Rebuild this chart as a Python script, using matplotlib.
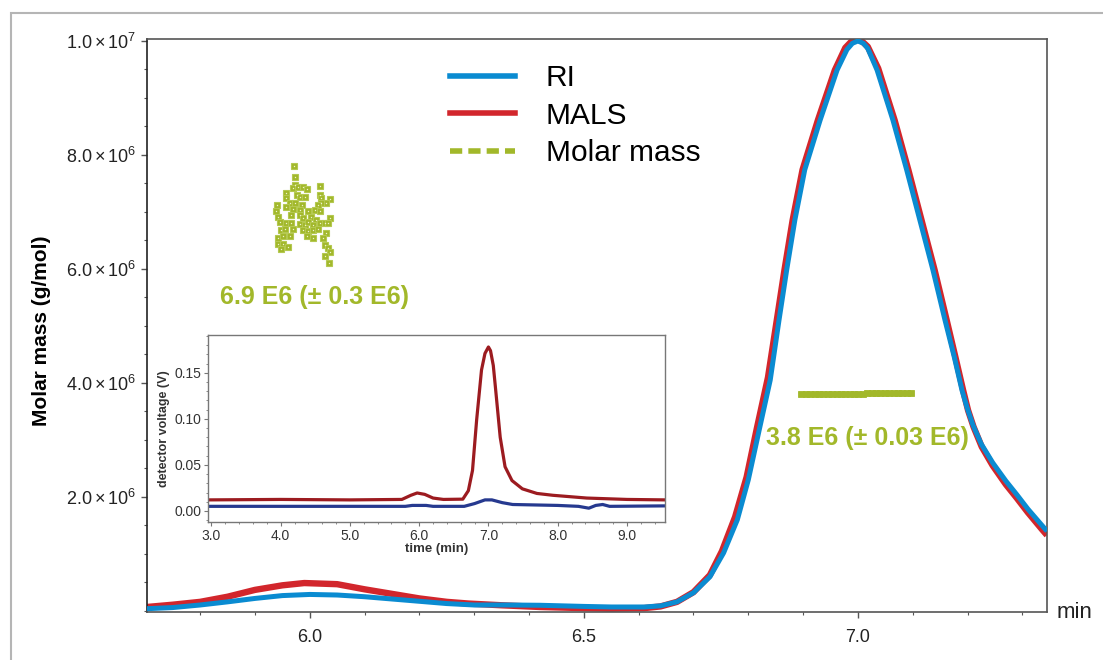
import numpy as np
import matplotlib
matplotlib.use("Agg")
import matplotlib.pyplot as plt
from matplotlib.lines import Line2D
from matplotlib.patches import Rectangle
from matplotlib.ticker import MultipleLocator

plt.rcParams['font.family'] = ['Liberation Sans', 'DejaVu Sans']
plt.rcParams['mathtext.fontset'] = 'custom'
plt.rcParams['mathtext.rm'] = 'Liberation Sans'
plt.rcParams['mathtext.it'] = 'Liberation Sans:italic'

# main chromatogram (time in min, signal scaled to molar mass axis, in 1e6 g/mol)
ri_t = [5.703, 5.75, 5.80, 5.85, 5.90, 5.95, 6.00, 6.05, 6.10, 6.15, 6.20, 6.25,
        6.30, 6.36, 6.42, 6.46, 6.50, 6.55, 6.61, 6.64, 6.67, 6.70, 6.73, 6.755,
        6.78, 6.80, 6.82, 6.84, 6.856, 6.870, 6.885, 6.903, 6.931, 6.962, 6.98, 6.99,
        7.00, 7.01, 7.018, 7.035, 7.064, 7.089, 7.113, 7.137, 7.159, 7.176, 7.190,
        7.200, 7.210, 7.225, 7.246, 7.27, 7.290, 7.31, 7.336, 7.345]
ri_v = [0.04, 0.06, 0.105, 0.16, 0.22, 0.27, 0.29, 0.28, 0.25, 0.21, 0.17, 0.13,
        0.105, 0.105, 0.10, 0.09, 0.08, 0.07, 0.07, 0.09, 0.16, 0.32, 0.60, 1.02,
        1.60, 2.30, 3.18, 4.05, 5.10, 5.98, 6.86, 7.74, 8.61, 9.49, 9.85, 9.96,
        10.0, 9.96, 9.87, 9.49, 8.61, 7.74, 6.86, 5.98, 5.10, 4.45, 3.87,
        3.54, 3.26, 2.93, 2.60, 2.28, 2.04, 1.79, 1.50, 1.40]

mals_t = [5.703, 5.75, 5.80, 5.85, 5.90, 5.95, 5.99, 6.05, 6.10, 6.15, 6.20, 6.25,
          6.29, 6.35, 6.42, 6.50, 6.55, 6.61, 6.64, 6.67, 6.70, 6.73, 6.752, 6.776,
          6.797, 6.816, 6.836, 6.852, 6.866, 6.881, 6.899, 6.927, 6.958, 6.977, 6.988,
          6.998, 7.008, 7.018, 7.037, 7.067, 7.092, 7.116, 7.140, 7.162, 7.178, 7.192,
          7.201, 7.211, 7.226, 7.246, 7.27, 7.290, 7.31, 7.336, 7.345]
mals_v = [0.07, 0.11, 0.16, 0.25, 0.37, 0.45, 0.49, 0.47, 0.38, 0.30, 0.22, 0.16,
          0.13, 0.10, 0.07, 0.05, 0.04, 0.05, 0.08, 0.16, 0.33, 0.63, 1.05, 1.65,
          2.35, 3.22, 4.10, 5.10, 5.98, 6.86, 7.74, 8.61, 9.49, 9.88, 9.99,
          10.03, 9.99, 9.90, 9.52, 8.61, 7.74, 6.86, 5.98, 5.10, 4.45, 3.87,
          3.52, 3.23, 2.88, 2.55, 2.22, 1.98, 1.73, 1.43, 1.33]

# molar mass points, first peak (1e6 g/mol)
mm1_t = [5.971, 5.973, 5.973, 5.970, 5.979, 5.988, 5.994, 5.956, 5.976, 5.982,
         5.991, 5.957, 5.963, 5.973, 5.985, 6.018, 6.018, 6.021, 6.036, 6.030,
         6.021, 6.015, 5.940, 5.957, 5.970, 5.982, 5.997, 6.009, 6.018, 5.939,
         5.942, 5.966, 5.982, 5.988, 6.003, 6.012, 6.036, 5.945, 5.957, 5.966,
         5.970, 5.982, 5.991, 5.997, 6.006, 6.018, 6.027, 6.033, 5.948, 5.954,
         5.988, 5.997, 6.006, 6.015, 6.030, 5.942, 5.951, 5.963, 5.994, 6.006,
         6.024, 5.942, 5.951, 5.960, 5.948, 6.027, 6.033, 6.036, 6.027, 6.035]
mm1_v = [7.81, 7.62, 7.47, 7.42, 7.44, 7.44, 7.40, 7.33, 7.30, 7.27,
         7.26, 7.24, 7.16, 7.15, 7.12, 7.46, 7.30, 7.24, 7.22, 7.15,
         7.16, 7.12, 7.12, 7.09, 7.06, 7.04, 7.01, 7.04, 7.01, 7.02,
         6.92, 6.95, 6.95, 6.89, 6.92, 6.86, 6.89, 6.83, 6.80, 6.80,
         6.71, 6.79, 6.77, 6.83, 6.77, 6.80, 6.80, 6.80, 6.68, 6.71,
         6.68, 6.66, 6.68, 6.71, 6.63, 6.54, 6.57, 6.58, 6.58, 6.54,
         6.54, 6.44, 6.44, 6.39, 6.35, 6.42, 6.36, 6.30, 6.22, 6.10]

# molar mass points, main peak
mm2_t = [6.897, 6.905, 6.913, 6.921, 6.929, 6.937, 6.945, 6.953, 6.961, 6.969,
         6.977, 6.985, 6.993, 7.001, 7.009, 7.017, 7.025, 7.033, 7.041, 7.049,
         7.057, 7.065, 7.073, 7.081, 7.089, 7.097]
mm2_v = [3.80, 3.80, 3.80, 3.80, 3.81, 3.80, 3.80, 3.81, 3.81, 3.81,
         3.81, 3.81, 3.81, 3.81, 3.81, 3.82, 3.82, 3.82, 3.82, 3.82,
         3.82, 3.82, 3.83, 3.83, 3.83, 3.83]

# inset: raw detector voltages
ins_mals_t = [2.95, 4.0, 5.0, 5.75, 5.88, 5.97, 6.08, 6.2, 6.35, 6.63, 6.71, 6.77,
              6.83, 6.90, 6.95, 7.0, 7.03, 7.07, 7.10, 7.17, 7.24, 7.34, 7.49, 7.7,
              7.93, 8.42, 9.0, 9.55]
ins_mals_v = [0.012, 0.0125, 0.012, 0.0125, 0.017, 0.0195, 0.018, 0.014, 0.0125,
              0.0128, 0.022, 0.044, 0.099, 0.153, 0.171, 0.178, 0.174, 0.158, 0.135,
              0.080, 0.048, 0.033, 0.024, 0.019, 0.017, 0.014, 0.0125, 0.012]
ins_ri_t = [2.95, 5.8, 5.9, 6.1, 6.2, 6.65, 6.8, 6.95, 7.05, 7.2, 7.35, 8.0, 8.3,
            8.45, 8.55, 8.65, 8.75, 9.55]
ins_ri_v = [0.005, 0.005, 0.006, 0.006, 0.005, 0.005, 0.008, 0.012, 0.012, 0.009,
            0.007, 0.006, 0.005, 0.003, 0.006, 0.007, 0.005, 0.0055]

ytick_vals = [2.0, 4.0, 6.0, 8.0, 10.0]
ytick_labels = [r'$2.0\times10^{6}$', r'$4.0\times10^{6}$', r'$6.0\times10^{6}$',
                r'$8.0\times10^{6}$', r'$1.0\times10^{7}$']

BLUE = '#0a8bd1'
RED = '#d2262c'
GREEN = '#a2b82a'
SPINE = '#555555'

fig = plt.figure(figsize=(11.03, 6.60), dpi=100)
fig.patches.append(Rectangle((0.01, -0.1), 1.1, 0.9803 + 0.1, transform=fig.transFigure,
                             fill=False, edgecolor='#b5b5b5', lw=1.5, zorder=-1))

ax = fig.add_axes([147 / 1103, 1 - 612 / 660, 900 / 1103, 573 / 660])
ax.plot(mals_t, mals_v, color=RED, lw=4.6, solid_capstyle='butt', zorder=2)
ax.plot(ri_t, ri_v, color=BLUE, lw=3.6, solid_capstyle='butt', zorder=3)
# scattered molar mass points of the small peak, light centre dot
ax.plot(mm1_t, mm1_v, ls='none', marker='s', ms=4.8, mfc=GREEN, mec='#b4c850', mew=0.8, zorder=4)
ax.plot(mm1_t, mm1_v, ls='none', marker='s', ms=0.9, mfc='#eef3d0', mec='none', zorder=5)
# dense molar mass points of the main peak form a solid bar
ax.plot(mm2_t, mm2_v, ls='none', marker='s', ms=4.4, mfc=GREEN, mec=GREEN, mew=0.6, zorder=4)

ax.set_xlim(5.703, 7.345)
ax.set_ylim(-0.018, 10.035)
ax.set_xticks([6.0, 6.5, 7.0])
ax.set_xticklabels(['6.0', '6.5', '7.0'])
ax.xaxis.set_minor_locator(MultipleLocator(0.1))
ax.set_yticks(ytick_vals)
ax.set_yticklabels(ytick_labels)
ax.yaxis.set_minor_locator(MultipleLocator(0.5))
ax.tick_params(axis='both', which='major', direction='out', length=4, width=1,
               color=SPINE, labelsize=13, labelcolor='#222222')
ax.tick_params(axis='both', which='minor', direction='out', length=2, width=0.8, color=SPINE)
ax.tick_params(axis='x', which='major', pad=8)
ax.tick_params(axis='y', which='major', pad=4)
for s in ax.spines.values():
    s.set_color(SPINE)
    s.set_linewidth(1.2)
ax.spines['left'].set_color('#222222')
ax.set_ylabel('Molar mass (g/mol)', fontsize=15, fontweight='bold')
ax.yaxis.set_label_coords(51 / 1103, 1 - 331 / 660, transform=fig.transFigure)
fig.text(1057 / 1103, 1 - 612 / 660, 'min', fontsize=16, va='center', ha='left', color='#222222')

ax.text(6.009, 5.51, '6.9 E6 (± 0.3 E6)', color=GREEN, fontsize=18, fontweight='bold',
        ha='center', va='center')
ax.text(7.018, 3.035, '3.8 E6 (± 0.03 E6)', color=GREEN, fontsize=18, fontweight='bold',
        ha='center', va='center')

handles = [Line2D([], [], color=BLUE, lw=4),
           Line2D([], [], color=RED, lw=4),
           Line2D([], [], color=GREEN, lw=4, ls=(0, (2.2, 1.1)))]
ax.legend(handles, ['RI', 'MALS', 'Molar mass'], loc='upper left',
          bbox_to_anchor=(450 / 1103, 1 - 64 / 660), bbox_transform=fig.transFigure,
          frameon=False, fontsize=21.5, handlelength=2.17, handletextpad=1.04,
          labelspacing=0.32, borderpad=0, borderaxespad=0)

# inset with detector voltages
ins = fig.add_axes([208 / 1103, 1 - 522 / 660, 457 / 1103, 187 / 660])
ins.plot(ins_mals_t, ins_mals_v, color='#9c1b20', lw=2.3)
ins.plot(ins_ri_t, ins_ri_v, color='#26398f', lw=2.3)
ins.set_xlim(2.95, 9.55)
ins.set_ylim(-0.012, 0.191)
ins.set_xticks([3, 4, 5, 6, 7, 8, 9])
ins.set_xticklabels(['3.0', '4.0', '5.0', '6.0', '7.0', '8.0', '9.0'])
ins.xaxis.set_minor_locator(MultipleLocator(0.2))
ins.set_yticks([0.0, 0.05, 0.10, 0.15])
ins.set_yticklabels(['0.00', '0.05', '0.10', '0.15'])
ins.yaxis.set_minor_locator(MultipleLocator(0.01))
ins.tick_params(axis='both', which='major', direction='out', length=3, width=0.8,
                color='#777777', labelsize=10, labelcolor='#333333', pad=2)
ins.tick_params(axis='both', which='minor', direction='out', length=1.5, width=0.6,
                color='#777777')
for s in ins.spines.values():
    s.set_color('#777777')
    s.set_linewidth(1.0)
ins.set_xlabel('time (min)', fontsize=9.5, fontweight='bold', labelpad=0, color='#333333')
ins.set_ylabel('detector voltage (V)', fontsize=9, fontweight='bold', labelpad=3, color='#333333')

fig.savefig('out.png', dpi=100)
